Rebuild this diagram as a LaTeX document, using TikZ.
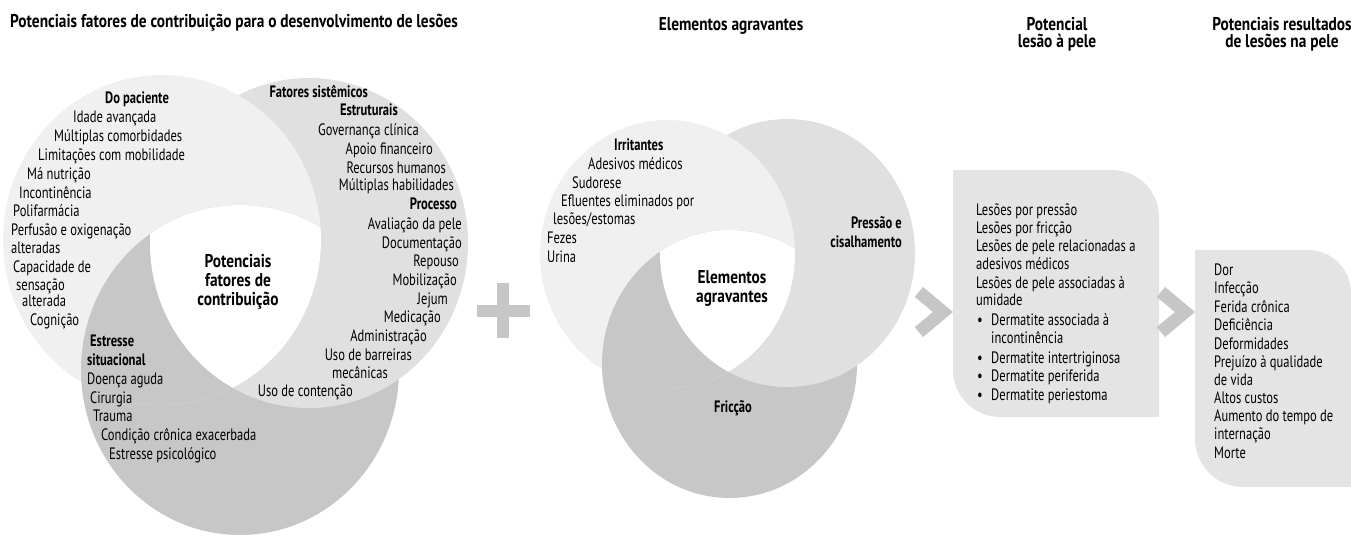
\documentclass[tikz,border=0pt]{standalone}
\usepackage{fontspec}
\setmainfont{PT Sans}[FakeStretch=0.76]
\newfontfamily\hdfont{PT Sans}[FakeStretch=0.83]
\definecolor{lightg}{RGB}{240,240,240}
\definecolor{midg}{RGB}{224,224,224}
\definecolor{darkg}{RGB}{199,199,199}
\definecolor{boxg}{RGB}{228,228,228}
\definecolor{chevg}{RGB}{198,198,198}
\newcommand\fs{\fontsize{16.5}{19.2}\selectfont}
\newcommand\hfs{\hdfont\fontsize{18.5}{17.5}\selectfont\bfseries}
\newcommand\cfs{\hdfont\fontsize{18.5}{19.3}\selectfont\bfseries}
\tikzset{
  txt/.style={inner sep=0pt, font=\fs, text=black},
  bf/.style={inner sep=0pt, font=\fs\bfseries, text=black},
  hd/.style={inner sep=0pt, font=\hfs, text=black, align=center},
  ctr/.style={inner sep=0pt, font=\cfs, text=black, align=center},
}
\begin{document}
\begin{tikzpicture}[x=1pt,y=-1pt]
\useasboundingbox (0,0) rectangle (1351,539);
% ---------- left venn
\def\rxa{159pt}\def\rya{165pt}
\fill[darkg] (240,370) ellipse[x radius=\rxa, y radius=\rya];
\fill[midg] (309,243) ellipse[x radius=\rxa, y radius=\rya];
\fill[lightg] (162,240) ellipse[x radius=\rxa, y radius=\rya];
\begin{scope}
  \clip (162,240) ellipse[x radius=\rxa, y radius=\rya];
  \fill[darkg] (240,370) ellipse[x radius=\rxa, y radius=\rya];
\end{scope}
\begin{scope}
  \clip (162,240) ellipse[x radius=\rxa, y radius=\rya];
  \clip (309,243) ellipse[x radius=\rxa, y radius=\rya];
  \fill[white] (240,370) ellipse[x radius=\rxa, y radius=\rya];
\end{scope}
% ---------- middle venn
\def\rxb{127.5pt}\def\ryb{134pt}
\fill[darkg] (729.5,364) ellipse[x radius=\rxb, y radius=\ryb];
\fill[midg] (787.5,253) ellipse[x radius=\rxb, y radius=\ryb];
\fill[lightg] (667.5,254) ellipse[x radius=\rxb, y radius=\ryb];
\begin{scope}
  \clip (667.5,254) ellipse[x radius=\rxb, y radius=\ryb];
  \fill[darkg] (729.5,364) ellipse[x radius=\rxb, y radius=\ryb];
\end{scope}
\begin{scope}
  \clip (667.5,254) ellipse[x radius=\rxb, y radius=\ryb];
  \clip (787.5,253) ellipse[x radius=\rxb, y radius=\ryb];
  \fill[white] (729.5,364) ellipse[x radius=\rxb, y radius=\ryb];
\end{scope}
% ---------- plus
\fill[chevg] (477,305) rectangle (530,317);
\fill[chevg] (497,283) rectangle (509,338);
% ---------- boxes
\fill[boxg] (953,170) -- (1112,170) arc[start angle=90,end angle=0,radius=47pt]
  -- (1159,417) -- (1000,417) arc[start angle=270,end angle=180,radius=47pt] -- cycle;
\fill[boxg] (1195,250) -- (1308,250) arc[start angle=90,end angle=0,radius=43pt]
  -- (1351,487) -- (1243,487) arc[start angle=270,end angle=180,radius=48pt] -- cycle;
% ---------- chevrons
\fill[chevg] (923,287) -- (953,312) -- (923,337) -- (914.7,327) -- (933,312) -- (914.7,297) -- cycle;
\fill[chevg] (1165,287) -- (1195,312) -- (1165,337) -- (1156.7,327) -- (1175,312) -- (1156.7,297) -- cycle;
% ---------- headers
\node[hd, anchor=mid west] (h1) at (10,25) {Potenciais fatores de contribuição para o desenvolvimento de lesões};
\node[hd] (h2) at (731,26) {Elementos agravantes};
\node[hd] (h3) at (1057,34.5) {Potencial\\lesão à pele};
\node[hd] (h4) at (1282,34.5) {Potenciais resultados\\de lesões na pele};
% ---------- left venn texts
\node[bf, anchor=mid west] (dp) at (105,101) {Do paciente};
\foreach \x/\y/\t [count=\i] in {73/120/Idade avançada, 54/139/Múltiplas comorbidades,
  38/158/Limitações com mobilidade, 27/177/Má nutrição, 19/196/Incontinência,
  13/214/Polifarmácia, 11/233/Perfusão e oxigenação, 11/251/alteradas,
  13/270/Capacidade de, 16/288/sensação, 22/304/alterada, 30/323/Cognição}
  \node[txt, anchor=mid west] (pa\i) at (\x,\y) {\t};
\node[bf, anchor=mid east] (fs) at (368,95) {Fatores sistêmicos};
\node[bf, anchor=mid east] (es) at (398,113) {Estruturais};
\node[bf, anchor=mid east] (pr) at (457,207) {Processo};
\foreach \x/\y/\t [count=\i] in {419/133/Governança clínica, 433/152/Apoio financeiro,
  446/171/Recursos humanos, 454/188/Múltiplas habilidades,
  462/227/Avaliação da pele, 462/246/Documentação, 459/264/Repouso,
  457/283/Mobilização, 448/302/Jejum, 441/320/Medicação, 427/339/Administração,
  412/358/Uso de barreiras, 388/376/mecânicas, 353/394/Uso de contenção}
  \node[txt, anchor=mid east] (si\i) at (\x,\y) {\t};
\node[ctr] (pfc) at (238,282) {Potenciais\\fatores de\\contribuição};
\node[bf, anchor=mid west] (es1) at (90,344) {Estresse};
\node[bf, anchor=mid west] (es2) at (87,363) {situacional};
\foreach \x/\y/\t [count=\i] in {87/382/Doença aguda, 90/401/Cirurgia, 93/419/Trauma,
  101/438/Condição crônica exacerbada, 109/457/Estresse psicológico}
  \node[txt, anchor=mid west] (st\i) at (\x,\y) {\t};
% ---------- middle venn texts
\node[bf, anchor=mid west] (irr) at (614,148) {Irritantes};
\foreach \x/\y/\t [count=\i] in {588/167/Adesivos médicos, 572/186/Sudorese,
  561/204/Efluentes eliminados por, 553/222/{lesões/estomas}, 547/241/Fezes, 547/260/Urina}
  \node[txt, anchor=mid west] (ir\i) at (\x,\y) {\t};
\node[bf, align=right, anchor=east] (pc) at (902,232.5) {Pressão e\\cisalhamento};
\node[ctr] (ea) at (732,288.5) {Elementos\\agravantes};
\node[bf] (fr) at (733,408) {Fricção};
% ---------- box 1 texts
\foreach \x/\y/\t [count=\i] in {976/213/Lesões por pressão, 976/231/Lesões por fricção,
  976/249/Lesões de pele relacionadas a, 976/267/adesivos médicos,
  976/286/Lesões de pele associadas à, 976/303/umidade,
  991/323/Dermatite associada à, 991/341/incontinência,
  991/361/Dermatite intertriginosa, 991/379/Dermatite periferida, 991/398/Dermatite periestoma}
  \node[txt, anchor=mid west] (lp\i) at (\x,\y) {\t};
\foreach \y [count=\i] in {323,361,379,398}
  \node[txt, anchor=mid west] (bu\i) at (977,\y) {•};
% ---------- box 2 texts
\foreach \y/\t [count=\i] in {273/Dor, 291/Infecção, 310/Ferida crônica, 328/Deficiência,
  347/Deformidades, 365/Prejuízo à qualidade, 383/de vida, 401/Altos custos,
  419/Aumento do tempo de, 437/internação, 456/Morte}
  \node[txt, anchor=mid west] (rs\i) at (1214,\y) {\t};
\end{tikzpicture}
\end{document}
